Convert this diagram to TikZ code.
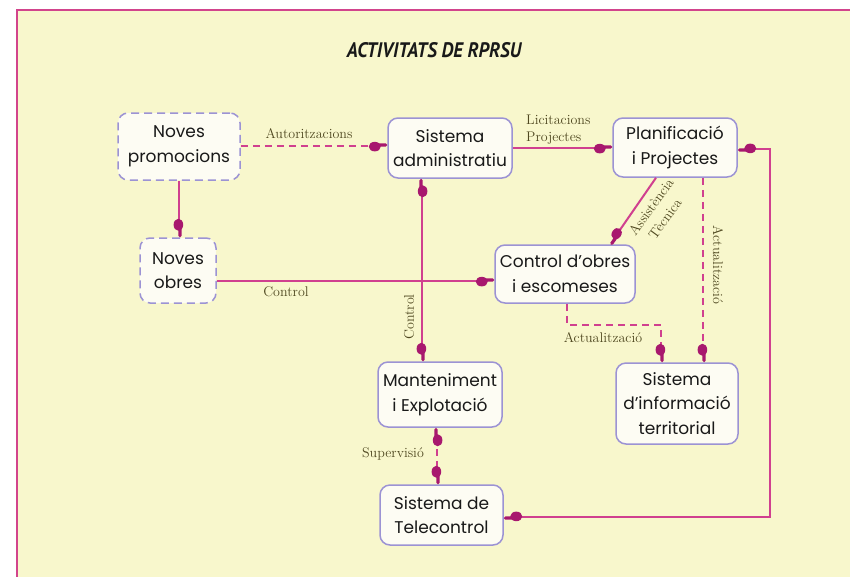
\documentclass[tikz,border=0pt]{standalone}
\usepackage{fontspec}
\newfontfamily\nodefont{Poppins}
\newfontfamily\titlefont{PT Sans}
\usetikzlibrary{calc}
\definecolor{bgy}{HTML}{F8F7CC}
\definecolor{framec}{HTML}{D2448C}
\definecolor{linec}{HTML}{D0408F}
\definecolor{handc}{HTML}{A8186E}
\definecolor{boxline}{HTML}{9C93D4}
\definecolor{boxfill}{HTML}{FDFCF3}
\definecolor{labc}{HTML}{4F4820}

\pgfdeclarearrow{
  name = Hand,
  setup code = {
    \pgfarrowssettipend{0pt}
    \pgfarrowssetlineend{-9pt}
    \pgfarrowssetvisualbackend{-18.5pt}
    \pgfarrowssetbackend{-18.5pt}
    \pgfarrowshullpoint{0pt}{2.6pt}
    \pgfarrowshullpoint{0pt}{-0.6pt}
    \pgfarrowshullpoint{-18.5pt}{5pt}
    \pgfarrowshullpoint{-18.5pt}{-5.6pt}
  },
  drawing code = {
    \pgfsetfillcolor{handc}
    \pgfpathmoveto{\pgfpoint{-8pt}{-0.6pt}}
    \pgfpathlineto{\pgfpoint{-1.6pt}{-0.6pt}}
    \pgfpathcurveto{\pgfpoint{-0.3pt}{-0.6pt}}{\pgfpoint{0pt}{0.3pt}}{\pgfpoint{0pt}{1pt}}
    \pgfpathcurveto{\pgfpoint{0pt}{1.7pt}}{\pgfpoint{-0.3pt}{2.6pt}}{\pgfpoint{-1.6pt}{2.6pt}}
    \pgfpathlineto{\pgfpoint{-8pt}{2.6pt}}
    \pgfpathclose
    \pgfpathellipse{\pgfpoint{-12.5pt}{-0.6pt}}{\pgfpoint{6pt}{0pt}}{\pgfpoint{0pt}{4.8pt}}
    \pgfusepathqfill
  }
}

\begin{document}
\begin{tikzpicture}[x=1pt,y=-1pt,
  box/.style={draw=boxline, line width=1.5pt, fill=boxfill, rounded corners=10pt,
    inner sep=0pt, align=center, text=black!90,
    font=\nodefont\fontsize{17}{24.5}\selectfont},
  dbox/.style={box, dash pattern=on 8pt off 5pt},
  conn/.style={draw=linec, line width=2pt},
  dconn/.style={conn, dash pattern=on 7pt off 5pt},
  lab/.style={text=labc, inner sep=0pt, font=\fontsize{14}{17}\selectfont},
]
\useasboundingbox (0,0) rectangle (850,576);
\fill[white] (0,0) rectangle (850,576);
\draw[draw=framec, line width=1.5pt, fill=bgy] (17,10) rectangle (853,579);

\node[font=\titlefont\bfseries\itshape\fontsize{21}{24}\selectfont, text=black!90] (title) at (434,50) {\scalebox{0.9}[1]{ACTIVITATS DE RPRSU}};

\node[dbox, minimum width=122pt, minimum height=67pt] (promo) at (179,146.5) {Noves\\promocions};
\node[box, minimum width=124pt, minimum height=60pt] (admin) at (450,148) {Sistema\\administratiu};
\node[box, minimum width=124pt, minimum height=59pt] (plan) at (675,147.5) {Planificació\\i Projectes};
\node[box, minimum width=140pt, minimum height=58pt] (ctrl) at (565,274) {Control d’obres\\i escomeses};
\node[dbox, minimum width=76pt, minimum height=65pt] (obres) at (178,270.5) {Noves\\obres};
\node[box, minimum width=124pt, minimum height=65pt] (mant) at (440,394.5) {Manteniment\\i Explotació};
\node[box, minimum width=122pt, minimum height=81pt] (sit) at (677,403.5) {Sistema\\d’informació\\territorial};
\node[box, minimum width=123pt, minimum height=60pt] (tele) at (441.5,515) {Sistema de\\Telecontrol};

% connectors
\draw[dconn, -Hand] ([yshift=0.5pt]promo.east) -- ([yshift=0.5pt]promo.east -| admin.west);
\draw[conn, -Hand] (admin.east) -- (admin.east -| plan.west);
\draw[conn, -Hand] (promo.south) -- (promo.south |- obres.north);
\coordinate (c4) at ([yshift=-7pt]ctrl.west);
\draw[conn, -Hand] (obres.east |- c4) -- (c4);
\coordinate (c5) at ([xshift=-28pt]admin.south);
\draw[conn, Hand-Hand] (c5) -- (c5 |- mant.north);
\draw[conn, -Hand] ([xshift=-19pt]plan.south) -- ([xshift=45pt]ctrl.north);
\coordinate (c7) at ([xshift=28pt]plan.south);
\draw[dconn, -Hand] (c7) -- (c7 |- sit.north);
\draw[dconn, -Hand] ([xshift=2pt]ctrl.south) -- ++(0,21) -| ([xshift=-16pt]sit.north);
\coordinate (c9) at ([xshift=-3pt]mant.south);
\draw[dconn, Hand-Hand] (c9) -- (c9 |- tele.north);
\coordinate (rt) at (770,149);
\draw[conn, Hand-Hand] (plan.east |- rt) -- (rt) |- ([yshift=-2pt]tele.east);

% labels
\node[lab] (l1) at (309,134) {Autoritzacions};
\node[lab, align=left, anchor=west] (l2) at (526,130) {Licitacions\\Projectes};
\node[lab] (l3) at (286,292) {Control};
\node[lab, rotate=90] (l4) at (409,317) {Control};
\node[lab, rotate=54] (l5a) at (651,207) {Assistència};
\node[lab, rotate=54] (l5b) at (665,219) {Tècnica};
\node[lab, rotate=-90] (l6) at (718,265) {Actualització};
\node[lab] (l7) at (603,338) {Actualització};
\node[lab] (l8) at (393,454) {Supervisió};
\end{tikzpicture}
\end{document}
